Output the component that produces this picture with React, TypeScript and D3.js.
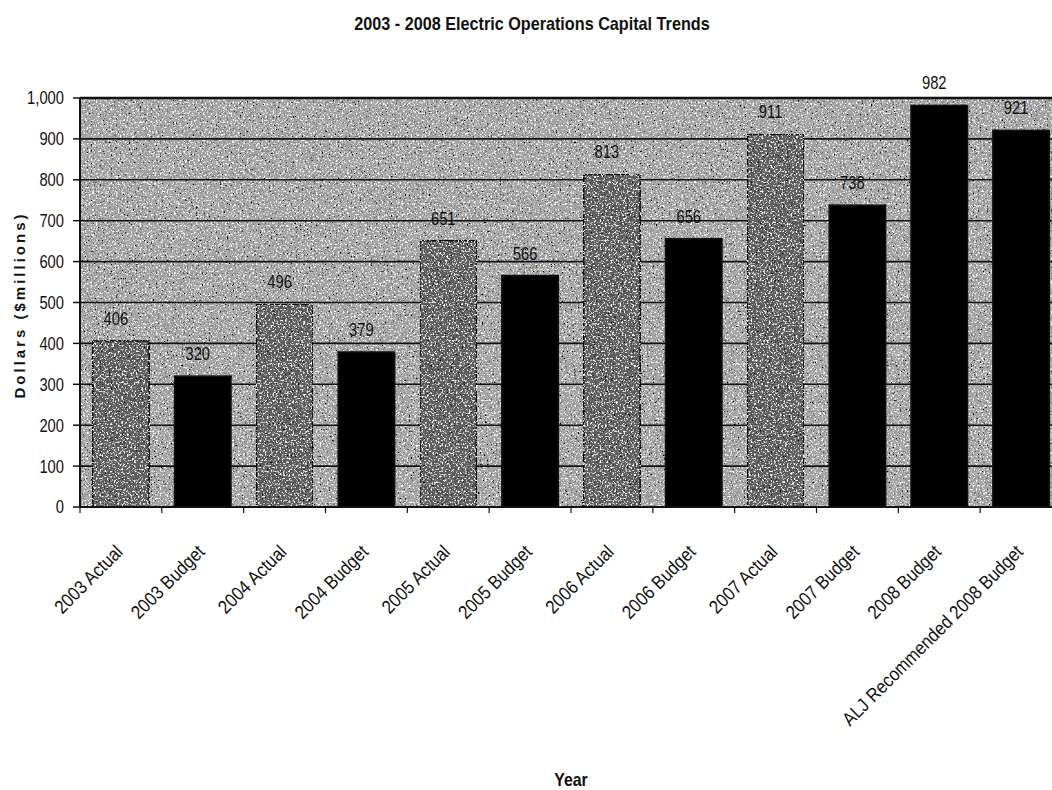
import { useEffect, useRef } from "react";
import * as d3 from 'd3'

const categories = [
    '2003 Actual', '2003 Budget', '2004 Actual', '2004 Budget', '2005 Actual', '2005 Budget',
    '2006 Actual', '2006 Budget', '2007 Actual', '2007 Budget', '2008 Budget', 'ALJ Recommended 2008 Budget'
]
const values = [406, 320, 496, 379, 651, 566, 813, 656, 911, 738, 982, 921]
const kinds = ['actual', 'budget', 'actual', 'budget', 'actual', 'budget', 'actual', 'budget', 'actual', 'budget', 'budget', 'budget']
const yTicks = [0, 100, 200, 300, 400, 500, 600, 700, 800, 900, 1000]

const W = 1052
const H = 790
// Arial Narrow look: Liberation Sans squeezed horizontally
const font = '"Liberation Sans", Arial, sans-serif'
const SQ = 0.82

function drawChart(svgRef: any) {
    const svg = d3.select(svgRef.current)
    svg.selectAll('*').remove()

    const left = 80, right = 1062, top = 98, bottom = 507

    const x = d3.scaleBand<string>()
        .domain(categories)
        .range([left, right])
        .paddingInner(0.31)
        .paddingOuter(0.155)
    const y = d3.scaleLinear().domain([0, 1000]).range([bottom, top])

    // grainy scan look
    const defs = svg.append('defs')
    const f = defs.append('filter').attr('id', 'grain')
        .attr('x', 0).attr('y', 0).attr('width', 1).attr('height', 1)
    f.append('feTurbulence').attr('type', 'fractalNoise').attr('baseFrequency', 0.55)
        .attr('numOctaves', 2).attr('seed', 7).attr('result', 'noise')
    f.append('feColorMatrix').attr('in', 'noise').attr('type', 'matrix')
        .attr('values', '0 0 0 0 1  0 0 0 0 1  0 0 0 0 1  5 0 0 0 -2.7').attr('result', 'wh')
    f.append('feColorMatrix').attr('in', 'noise').attr('type', 'matrix')
        .attr('values', '0 0 0 0 0  0 0 0 0 0  0 0 0 0 0  0 -5 0 0 2.1').attr('result', 'bk')
    f.append('feComposite').attr('in', 'wh').attr('in2', 'SourceGraphic').attr('operator', 'in').attr('result', 'wh2')
    f.append('feComposite').attr('in', 'bk').attr('in2', 'SourceGraphic').attr('operator', 'in').attr('result', 'bk2')
    const m = f.append('feMerge')
    m.append('feMergeNode').attr('in', 'SourceGraphic')
    m.append('feMergeNode').attr('in', 'bk2')
    m.append('feMergeNode').attr('in', 'wh2')

    svg.append('rect').attr('width', W).attr('height', H).attr('fill', 'white')

    // plot area
    svg.append('rect')
        .attr('x', left).attr('y', top)
        .attr('width', W - left).attr('height', bottom - top)
        .attr('fill', '#a4a4a4')
        .attr('filter', 'url(#grain)')

    // gridlines
    svg.append('g')
        .selectAll('line')
        .data(yTicks.filter(d => d > 0))
        .join('line')
        .attr('x1', left).attr('x2', W)
        .attr('y1', d => y(d)).attr('y2', d => y(d))
        .attr('stroke', '#111')
        .attr('stroke-width', d => d === 1000 ? 2.5 : 1.6)

    // bars
    svg.append('g')
        .selectAll('rect')
        .data(values)
        .join('rect')
        .attr('x', (d, i) => x(categories[i])!)
        .attr('y', d => y(d))
        .attr('width', x.bandwidth())
        .attr('height', d => bottom - y(d))
        .attr('fill', (d, i) => kinds[i] === 'actual' ? '#5e5e5e' : '#000')
        .attr('stroke', '#111')
        .attr('stroke-width', 1.5)
        .attr('filter', (d, i) => kinds[i] === 'actual' ? 'url(#grain)' : null)

    // value labels
    svg.append('g')
        .selectAll('text')
        .data(values)
        .join('text')
        .attr('transform', (d, i) => `translate(${x(categories[i])! + x.bandwidth() / 2 - 5},${y(d) - 16}) scale(${SQ},1)`)
        .attr('text-anchor', 'middle')
        .attr('font-family', font)
        .attr('font-size', 18)
        .attr('fill', '#111')
        .text(d => d)

    // y axis
    const yAxis = svg.append('g')
    yAxis.append('line')
        .attr('x1', left).attr('x2', left).attr('y1', top).attr('y2', bottom)
        .attr('stroke', '#111').attr('stroke-width', 2)
    yAxis.selectAll('line.tick')
        .data(yTicks)
        .join('line')
        .attr('class', 'tick')
        .attr('x1', left - 7).attr('x2', left)
        .attr('y1', d => y(d)).attr('y2', d => y(d))
        .attr('stroke', '#111').attr('stroke-width', 1.5)
    yAxis.selectAll('text')
        .data(yTicks)
        .join('text')
        .attr('transform', d => `translate(${left - 16},${y(d)}) scale(${SQ},1)`)
        .attr('dy', '0.36em')
        .attr('text-anchor', 'end')
        .attr('font-family', font)
        .attr('font-size', 18)
        .attr('fill', '#111')
        .text(d => d3.format(',')(d))

    // x axis
    const xAxis = svg.append('g')
    xAxis.append('line')
        .attr('x1', left).attr('x2', W).attr('y1', bottom).attr('y2', bottom)
        .attr('stroke', '#111').attr('stroke-width', 2)
    xAxis.selectAll('line.tick')
        .data(categories)
        .join('line')
        .attr('class', 'tick')
        .attr('x1', d => x(d)! - x.step() * x.paddingInner() / 2)
        .attr('x2', d => x(d)! - x.step() * x.paddingInner() / 2)
        .attr('y1', bottom).attr('y2', bottom + 6)
        .attr('stroke', '#111').attr('stroke-width', 1.2)
    xAxis.selectAll('text')
        .data(categories)
        .join('text')
        .attr('transform', d => `translate(${x(d)! + x.bandwidth() / 2 + 3},${bottom + 46}) rotate(-45) scale(0.88,1)`)
        .attr('text-anchor', 'end')
        .attr('font-family', font)
        .attr('font-size', 19)
        .attr('fill', '#111')
        .text(d => d)

    // titles
    svg.append('text')
        .attr('transform', `translate(532,30) scale(0.9,1)`)
        .attr('text-anchor', 'middle')
        .attr('font-family', font)
        .attr('font-weight', 'bold')
        .attr('font-size', 18)
        .attr('fill', '#111')
        .text('2003 - 2008 Electric Operations Capital Trends')
    svg.append('text')
        .attr('transform', `translate(25,305) rotate(-90)`)
        .attr('text-anchor', 'middle')
        .attr('font-family', font)
        .attr('font-weight', 'bold')
        .attr('font-size', 15)
        .attr('letter-spacing', 3)
        .attr('fill', '#111')
        .text('Dollars ($millions)')
    svg.append('text')
        .attr('transform', `translate(${(left + right) / 2},786) scale(0.88,1)`)
        .attr('text-anchor', 'middle')
        .attr('font-family', font)
        .attr('font-weight', 'bold')
        .attr('font-size', 18)
        .attr('fill', '#111')
        .text('Year')
}

export default function App() {
    const svgRef = useRef<SVGSVGElement>(null)
    useEffect(() => {
        drawChart(svgRef)
    }, [])
    return (
        <svg ref={svgRef} width={W} height={H}
            style={{ position: 'absolute', left: 0, top: 0, display: 'block' }} />
    )
}
